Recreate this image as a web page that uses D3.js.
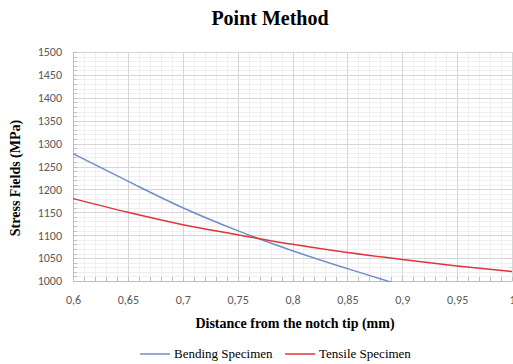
<!DOCTYPE html>
<html>
<head>
<meta charset="utf-8">
<script src="https://cdn.jsdelivr.net/npm/d3@7"></script>
<style>
  body { margin: 0; background: #fff; }
  svg { display: block; }
</style>
</head>
<body>
<div id="chart"></div>
<script>
// data
var distances = [0.6, 0.65, 0.7, 0.75, 0.8, 0.85, 0.9, 0.95, 1.0];
var bending = [1278, 1218, 1160, 1110, 1066, 1027, 990, null, null];
var tensile = [1180, 1150, 1123, 1101, 1080, 1062, 1047, 1033, 1021];
var xTicks = [0.6, 0.65, 0.7, 0.75, 0.8, 0.85, 0.9, 0.95, 1];
var yTicks = [1000, 1050, 1100, 1150, 1200, 1250, 1300, 1350, 1400, 1450, 1500];

var W = 513, H = 364;
var margin = { top: 52, right: 1, bottom: 83, left: 73 };
var width = W - margin.left - margin.right,
    height = H - margin.top - margin.bottom;

var svg = d3.select("#chart").append("svg")
  .attr("width", W).attr("height", H);

var g = svg.append("g")
  .attr("transform", "translate(" + margin.left + "," + margin.top + ")");

var x = d3.scaleLinear().domain([0.6, 1]).range([0, width]);
var y = d3.scaleLinear().domain([1000, 1500]).range([height, 0]);

// minor grid
var minorX = d3.range(0.6, 1.0001, 0.01);
var minorY = d3.range(1000, 1500.1, 10);
g.append("g").selectAll("line").data(minorX).enter().append("line")
  .attr("x1", d => Math.round(x(d)) + 0.5).attr("x2", d => Math.round(x(d)) + 0.5)
  .attr("y1", 0).attr("y2", height)
  .attr("stroke", "#efefef");
g.append("g").selectAll("line").data(minorY).enter().append("line")
  .attr("y1", d => Math.round(y(d)) + 0.5).attr("y2", d => Math.round(y(d)) + 0.5)
  .attr("x1", 0).attr("x2", width)
  .attr("stroke", "#efefef");

// major grid
g.append("g").selectAll("line").data(xTicks).enter().append("line")
  .attr("x1", d => Math.round(x(d)) + 0.5).attr("x2", d => Math.round(x(d)) + 0.5)
  .attr("y1", 0).attr("y2", height)
  .attr("stroke", "#d6d6d6");
g.append("g").selectAll("line").data(yTicks).enter().append("line")
  .attr("y1", d => Math.round(y(d)) + 0.5).attr("y2", d => Math.round(y(d)) + 0.5)
  .attr("x1", 0).attr("x2", width)
  .attr("stroke", "#d6d6d6");

// minor tick marks inside
g.append("g").selectAll("line").data(minorY).enter().append("line")
  .attr("y1", d => Math.round(y(d)) + 0.5).attr("y2", d => Math.round(y(d)) + 0.5)
  .attr("x1", 0).attr("x2", 4)
  .attr("stroke", "#bfbfbf");
g.append("g").selectAll("line").data(minorX).enter().append("line")
  .attr("x1", d => Math.round(x(d)) + 0.5).attr("x2", d => Math.round(x(d)) + 0.5)
  .attr("y1", height).attr("y2", height - 4)
  .attr("stroke", "#bfbfbf");

// axes
var yAxis = g.append("g")
  .call(d3.axisLeft(y).tickValues(yTicks).tickSize(0).tickPadding(11)
    .tickFormat(d3.format("d")));
var xAxis = g.append("g")
  .attr("transform", "translate(0," + height + ")")
  .call(d3.axisBottom(x).tickValues(xTicks).tickSize(0).tickPadding(14)
    .tickFormat(d => String(d).replace(".", ",")));
[yAxis, xAxis].forEach(function(a) {
  a.select(".domain").attr("stroke", "#bfbfbf");
  a.selectAll("text")
    .style("font-family", "Carlito, 'Liberation Sans', Arial, sans-serif")
    .style("font-size", "12px")
    .attr("fill", "#595959");
});

// lines
var clip = svg.append("clipPath").attr("id", "clip")
  .append("rect").attr("width", width).attr("height", height + 1);

var line = d3.line()
  .defined(d => d[1] != null)
  .x(d => x(d[0])).y(d => y(d[1]))
  .curve(d3.curveMonotoneX);

g.append("path")
  .datum(distances.map((d, i) => [d, bending[i]]))
  .attr("clip-path", "url(#clip)")
  .attr("fill", "none").attr("stroke", "#6f8fc6").attr("stroke-width", 1.5)
  .attr("d", line);
g.append("path")
  .datum(distances.map((d, i) => [d, tensile[i]]))
  .attr("clip-path", "url(#clip)")
  .attr("fill", "none").attr("stroke", "#e0343c").attr("stroke-width", 1.5)
  .attr("d", line);

// title
svg.append("text")
  .attr("x", 270).attr("y", 25)
  .attr("text-anchor", "middle")
  .style("font-family", "'Liberation Serif', 'Times New Roman', serif")
  .style("font-weight", "bold").style("font-size", "20px")
  .text("Point Method");

// axis titles
svg.append("text")
  .attr("transform", "translate(20,178)rotate(-90)")
  .attr("text-anchor", "middle")
  .style("font-family", "'Liberation Serif', 'Times New Roman', serif")
  .style("font-weight", "bold").style("font-size", "14px")
  .text("Stress Fields (MPa)");
svg.append("text")
  .attr("x", 295).attr("y", 328)
  .attr("text-anchor", "middle")
  .style("font-family", "'Liberation Serif', 'Times New Roman', serif")
  .style("font-weight", "bold").style("font-size", "14px")
  .text("Distance from the notch tip (mm)");

// legend
var legend = [
  { name: "Bending Specimen", color: "#6f8fc6", x: 140 },
  { name: "Tensile Specimen", color: "#e0343c", x: 285 }
];
var lg = svg.append("g").selectAll("g").data(legend).enter().append("g")
  .attr("transform", d => "translate(" + d.x + ",354)");
lg.append("line").attr("x1", 0).attr("x2", 30).attr("y1", 0).attr("y2", 0)
  .attr("stroke", d => d.color).attr("stroke-width", 1.5);
lg.append("text").attr("x", 34).attr("y", 4)
  .style("font-family", "'Liberation Serif', 'Times New Roman', serif")
  .style("font-size", "13px")
  .text(d => d.name);
</script>
</body>
</html>
